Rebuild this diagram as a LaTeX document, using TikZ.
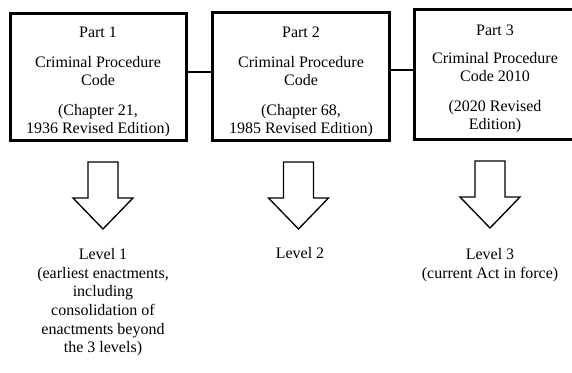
\documentclass[tikz,border=0pt]{standalone}
\usepackage{fontspec}
\setmainfont{Liberation Serif}
\usetikzlibrary{fit}
\begin{document}
\begin{tikzpicture}[x=0.75pt,y=-0.75pt,
  boxstyle/.style={draw, line width=2.25pt, inner sep=0pt},
  txt/.style={align=center, inner sep=0pt, anchor=north, font=\fontsize{12pt}{13.5pt}\selectfont},
  lbl/.style={align=center, inner sep=0pt, anchor=north, font=\fontsize{12pt}{14pt}\selectfont},
  link/.style={line width=1.5pt},
  blockarrow/.pic={\draw[line width=1pt, line join=miter] (-15,0) -- (15,0) -- (15,36) -- (30,36) -- (0,67) -- (-30,36) -- (-15,36) -- cycle;}]
\useasboundingbox (0,0) rectangle (572,373);
% boxes
\node[boxstyle, fit={(10.5,13.5) (186,140.5)}] (b1) {};
\node[boxstyle, fit={(212.5,12.5) (389,140.5)}] (b2) {};
\node[boxstyle, fit={(414.5,9.5) (578,139.5)}] (b3) {};
% box texts
\node[txt] (t1) at (98,27) {Part 1\\[9pt]Criminal Procedure\\Code\\[9pt](Chapter 21,\\1936 Revised Edition)};
\node[txt] (t2) at (301,27) {Part 2\\[9pt]Criminal Procedure\\Code\\[9pt](Chapter 68,\\1985 Revised Edition)};
\node[txt] (t3) at (495,25) {Part 3\\[7.5pt]Criminal Procedure\\Code 2010\\[8.5pt](2020 Revised\\Edition)};
% connectors
\draw[link] (b1.east |- 0,72) -- (b2.west |- 0,72);
\draw[link] (b2.east |- 0,70) -- (b3.west |- 0,70);
% block arrows
\pic at (103,162) {blockarrow};
\pic at (298.5,162) {blockarrow};
\pic at (490,161) {blockarrow};
% level labels
\node[lbl] (l1) at (103,248) {Level 1\\(earliest enactments,\\including\\consolidation of\\enactments beyond\\the 3 levels)};
\node[lbl] (l2) at (300,247) {Level 2};
\node[lbl] (l3) at (490,248) {Level 3\\(current Act in force)};
\end{tikzpicture}
\end{document}
